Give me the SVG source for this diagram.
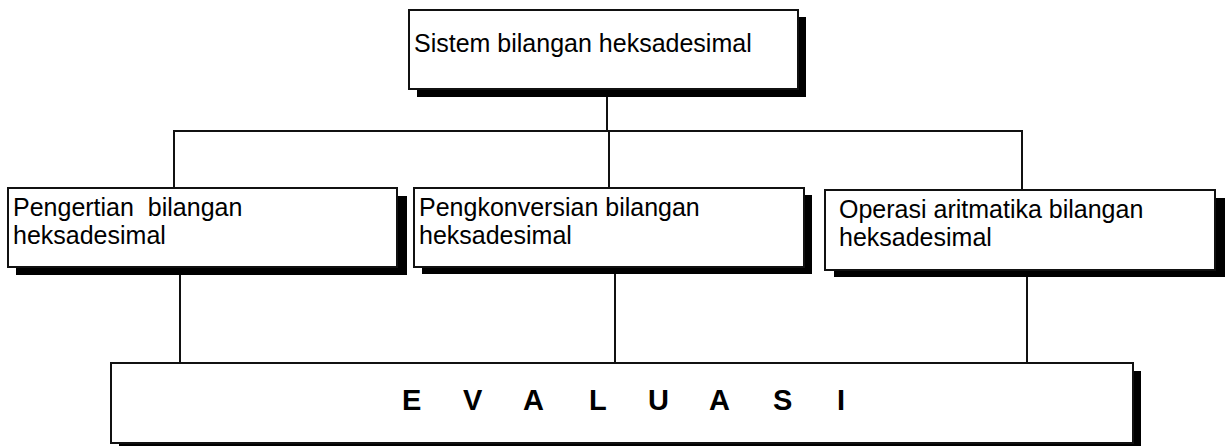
<svg xmlns="http://www.w3.org/2000/svg" width="1228" height="446" viewBox="0 0 1228 446">
<style>
.shadow{fill:#000;}
.box{fill:#fff;stroke:#111;stroke-width:2;}
.lbl{font-family:"Liberation Sans",Arial,sans-serif;font-size:25px;fill:#000;}
.big{font-family:"Liberation Sans",Arial,sans-serif;font-size:29px;font-weight:bold;fill:#000;}
.conn{stroke:#111;stroke-width:2;fill:none;}
</style>
<rect width="1228" height="446" fill="#fff"/>
<g id="connectors">
<line class="conn" x1="607" y1="96" x2="607" y2="131"/>
<line class="conn" x1="173" y1="131" x2="1023" y2="131"/>
<line class="conn" x1="174" y1="131" x2="174" y2="188"/>
<line class="conn" x1="609" y1="131" x2="609" y2="188"/>
<line class="conn" x1="1022" y1="131" x2="1022" y2="190"/>
<line class="conn" x1="180" y1="275" x2="180" y2="363"/>
<line class="conn" x1="615" y1="274" x2="615" y2="363"/>
<line class="conn" x1="1027" y1="277" x2="1027" y2="363"/>
</g>
<g id="top">
<rect class="shadow" x="417" y="17" width="389" height="80"/>
<rect class="box" x="409" y="10" width="389" height="79"/>
<text class="lbl" x="414" y="52">Sistem bilangan heksadesimal</text>
</g>
<g id="pengertian">
<rect class="shadow" x="16" y="196" width="391" height="79"/>
<rect class="box" x="8" y="188" width="389" height="79"/>
<text class="lbl" x="13" y="216" xml:space="preserve">Pengertian  bilangan</text>
<text class="lbl" x="13" y="244">heksadesimal</text>
</g>
<g id="pengkonversian">
<rect class="shadow" x="422" y="195" width="390" height="79"/>
<rect class="box" x="414" y="188" width="390" height="79"/>
<text class="lbl" x="419" y="216">Pengkonversian bilangan</text>
<text class="lbl" x="419" y="244">heksadesimal</text>
</g>
<g id="operasi">
<rect class="shadow" x="834" y="198" width="391" height="79"/>
<rect class="box" x="825" y="190" width="390" height="80"/>
<text class="lbl" x="839" y="218">Operasi aritmatika bilangan</text>
<text class="lbl" x="839" y="246">heksadesimal</text>
</g>
<g id="evaluasi">
<rect class="shadow" x="119" y="371" width="1022" height="80"/>
<rect class="box" x="111" y="363" width="1022" height="80"/>
<text class="big" y="410" x="402 432 463 493 523 556 589 618 648 678 709 741 773 805 837">E V A L U A S I</text>
</g>
</svg>
